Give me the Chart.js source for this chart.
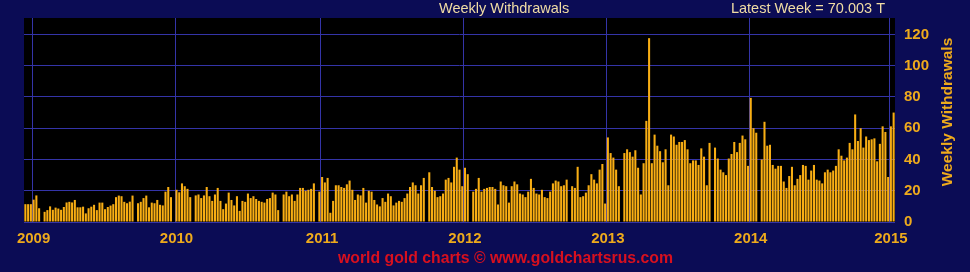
<!DOCTYPE html>
<html>
<head>
<meta charset="utf-8">
<script src="https://cdn.jsdelivr.net/npm/chart.js@4.4.1/dist/chart.umd.min.js"></script>
<style>
  html, body { margin: 0; padding: 0; background: #0b0c55; }
  #myChart { display: block; }
</style>
</head>
<body>
<canvas id="myChart" width="970" height="272"></canvas>
<script>
// toneladas por semana (dez 2008 -> jan 2015)
const weeklyWithdrawals = [
    11.4, 11.4, 11.4, 14.3, 17, 8.8, 0, 6.5, 7.6, 10, 7.8, 9.2, 8.6, 7.8, 9.6, 12.5, 12.9, 12.5, 14.1, 9.4,
    9.4, 9.8, 5.5, 8.8, 9.8, 11, 7.6, 12.4, 12.4, 8.2, 9.6, 10.5, 11.4, 15.9, 16.9, 16.5, 12.9, 12, 13, 16.9,
    0, 12, 12.9, 15.3, 16.9, 9.4, 12.4, 12, 14.1, 11, 10.6, 19.4, 22.4, 15.9, 0,
    // 2010
    20.6, 19, 24.7, 22.9, 21.2, 15.9, 0, 17, 17.6, 15.3, 17, 22.4, 16.5, 13.5, 17.6, 21.8, 13.5, 8.2, 11.8, 18.8,
    14.1, 10.6, 16.5, 7.1, 13.5, 12.9, 18.2, 15.3, 16.5, 14.7, 13.5, 12.9, 12.4, 14.7, 15.3, 18.8, 17.6, 7.6, 0, 17.6,
    19.4, 16.5, 17.6, 13.5, 17.6, 21.8, 21.8, 20, 20.6, 21.2, 24.7, 0, 19.4,
    // 2011
    28.8, 25.3, 28.2, 5.9, 13.5, 23.5, 23.5, 22.4, 21.8, 24.1, 26.5, 20.6, 14.1, 17.6, 17, 21.8, 12.4, 20, 19.4, 14.1,
    11.2, 10, 15.3, 12.9, 18.2, 16.5, 10.6, 12.4, 13.5, 12.9, 15.3, 18.2, 22.4, 25.3, 23.5, 18.2, 23.5, 28.2, 0, 31.8,
    22.4, 20, 15.9, 16.5, 18.2, 27.1, 28.2, 25.3, 35.3, 41.2, 33.5, 22.9,
    // 2012
    34.7, 30.6, 0, 19.4, 21.2, 28.2, 19.4, 21.2, 21.8, 22.4, 22.4, 21.2, 11.2, 25.9, 23.5, 22.9, 12.4, 22.9, 25.9, 24.1,
    18.2, 17.6, 15.9, 19.4, 27.6, 21.8, 18.2, 17.6, 20.6, 15.9, 15.3, 19.4, 24.7, 26.5, 25.9, 22.9, 23.5, 27.1, 0, 22.9,
    21.8, 35.3, 15.9, 16.5, 18.8, 23.5, 30.6, 27.1, 24.7, 33.5, 37.1, 11.8,
    // 2013
    54.1, 44.1, 41.2, 33.5, 22.9, 0, 44.1, 46.5, 44.7, 41.8, 45.9, 34.7, 17.6, 37.6, 64.7, 117.6, 37.6, 55.9, 48.8, 45.3,
    38.2, 46.5, 23.5, 55.9, 54.7, 49.4, 51.2, 51.2, 52.4, 46.5, 37.6, 39.4, 39.4, 36.5, 47.1, 41.8, 23.5, 50.6, 0, 47.6,
    40.6, 33.5, 31.8, 30, 40.6, 43.5, 51.2, 44.7, 50.6, 55.3, 52.9, 35.9,
    // 2014
    79.4, 60, 57.1, 0, 40, 64.1, 48.8, 49.4, 36.5, 34.1, 35.9, 35.9, 25.9, 21.8, 29.4, 35.3, 23.5, 27.6, 30, 36.5,
    35.9, 27.1, 32.9, 36.5, 27.1, 26.5, 24.7, 31.8, 33.5, 31.8, 32.9, 35.9, 46.5, 42.4, 39.4, 41.2, 50.6, 46.5, 68.8, 51.8,
    60, 47.6, 54.7, 52.4, 52.9, 53.5, 38.8, 50, 61.2, 57.6, 28.8,
    // 2015
    61.2, 70.003
];

const yearLabels = ["2009", "2010", "2011", "2012", "2013", "2014", "2015"];
const yearStarts = [3, 55, 108, 160, 212, 264, 315]; // índice da 1a semana de cada ano
const yTicks = [0, 20, 40, 60, 80, 100, 120];
const latestWeek = "70.003";

const weekLabels = weeklyWithdrawals.map((v, i) => "s" + i);

const corGrade = "#3434a8";
const corLaranja = "#eeaa1c";
const fonte = '"Liberation Sans", Arial, sans-serif';

const fundo = {
    id: "fundo",
    beforeDraw(chart) {
        const { ctx, chartArea: a } = chart;
        ctx.save();
        ctx.fillStyle = "#0b0c55";
        ctx.fillRect(0, 0, chart.width, chart.height);
        ctx.fillStyle = "#000000";
        ctx.fillRect(a.left, a.top, a.right - a.left, a.bottom - a.top);
        ctx.restore();
    },
    afterDraw(chart) {
        const ctx = chart.ctx;
        ctx.save();
        ctx.font = "14.5px " + fonte;
        ctx.fillStyle = "#f0dca4";
        ctx.textBaseline = "alphabetic";
        ctx.textAlign = "left";
        ctx.fillText("Weekly Withdrawals", 439, 13);
        ctx.textAlign = "right";
        ctx.fillText("Latest Week = " + latestWeek + " T", 885, 13);

        ctx.font = "bold 15.8px " + fonte;
        ctx.fillStyle = "#d8101e";
        ctx.textAlign = "left";
        ctx.fillText("world gold charts \u00a9 www.goldchartsrus.com", 338, 263);

        // título do eixo, de baixo para cima
        ctx.translate(948, 112);
        ctx.rotate(-Math.PI / 2);
        ctx.font = "bold 15.5px " + fonte;
        ctx.fillStyle = corLaranja;
        ctx.textAlign = "center";
        ctx.textBaseline = "middle";
        ctx.fillText("Weekly Withdrawals", 0, 0);
        ctx.restore();
    }
};

const config = {
    type: "bar",
    data: {
        labels: weekLabels,
        datasets: [
            {
                data: weeklyWithdrawals,
                backgroundColor: "#f8ae14",
                barPercentage: 0.75,
                categoryPercentage: 1.0
            }
        ]
    },
    options: {
        responsive: false,
        animation: false,
        layout: { padding: { left: 24, top: 0, right: 0, bottom: 0 } },
        plugins: {
            legend: { display: false },
            tooltip: { enabled: false }
        },
        scales: {
            x: {
                border: { display: false },
                grid: {
                    drawTicks: false,
                    color: (c) => yearStarts.includes(c.index) ? corGrade : "transparent"
                },
                ticks: {
                    autoSkip: false,
                    maxRotation: 0,
                    minRotation: 0,
                    padding: 8,
                    color: corLaranja,
                    font: { family: fonte, size: 15, weight: "bold" },
                    callback: (v, i) => {
                        const k = yearStarts.indexOf(i);
                        return k >= 0 ? yearLabels[k] : "";
                    }
                },
                afterFit: (s) => { s.height = 50; }
            },
            y: {
                position: "right",
                min: 0,
                max: 130.5,
                border: { display: false },
                grid: { drawTicks: false, color: corGrade },
                afterBuildTicks: (s) => { s.ticks = yTicks.map(v => ({ value: v })); },
                ticks: {
                    includeBounds: false,
                    padding: 9,
                    color: corLaranja,
                    font: { family: fonte, size: 15, weight: "bold" }
                },
                afterFit: (s) => { s.width = 75; }
            }
        }
    },
    plugins: [fundo]
};

new Chart(document.getElementById("myChart"), config);
</script>
</body>
</html>
